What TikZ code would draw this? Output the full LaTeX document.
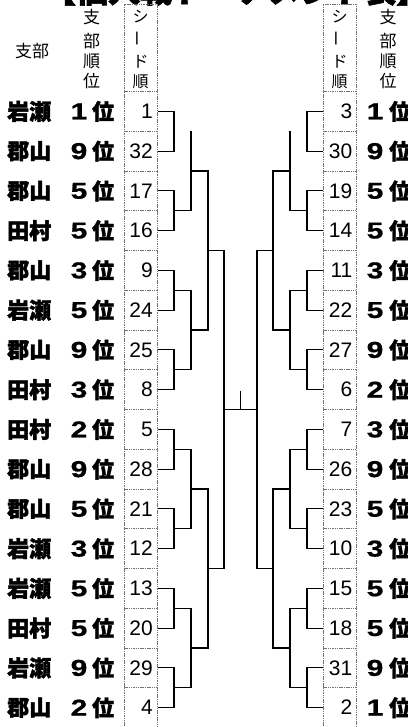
\documentclass[tikz,border=0pt]{standalone}
\usepackage{fontspec}
\newfontfamily\jp{Noto Sans CJK JP}
\newfontfamily\jpheavy{Noto Sans CJK JP}[BoldFeatures={FakeBold=1.8}]
\newfontfamily\numf{Liberation Sans}
\newfontfamily\rankf{Liberation Sans}[BoldFeatures={FakeStretch=1.3,FakeBold=0.8}]
\begin{document}
\begin{tikzpicture}[x=1pt,y=-1pt,
  br/.style={line width=1.1pt, black},
  boxline/.style={line width=0.7pt, black!55, dash pattern=on 1.5pt off 0.8pt},
  team/.style={font=\jpheavy\bfseries\fontsize{22}{22}\selectfont, anchor=west, inner sep=0pt},
  rankdigit/.style={font=\rankf\bfseries\fontsize{23}{23}\selectfont, anchor=west, inner sep=0pt},
  seednum/.style={font=\numf\fontsize{21}{21}\selectfont, anchor=east, inner sep=0pt},
  hdr/.style={font=\jp\fontsize{17}{17}\selectfont, inner sep=0pt},
  hdrs/.style={font=\jp\fontsize{16}{16}\selectfont, inner sep=0pt}]
\useasboundingbox (0,0) rectangle (407,727);
\fill[white] (0,0) rectangle (407,727);
% clipped title
\node[font=\jpheavy\bfseries\fontsize{32}{32}\selectfont, anchor=base west, inner sep=0pt] (title) at (44,2.5) {【個人戦トーナメント表】};
% headers
\node[hdr] (h0) at (32,51) {支部};
\node[hdr] (lh1) at (91.5,16.7) {支};
\node[hdr] (lh2) at (91.5,40.8) {部};
\node[hdr] (lh3) at (91.5,61.7) {順};
\node[hdr] (lh4) at (91.5,81.3) {位};
\node[hdr] (rh1) at (388,16.7) {支};
\node[hdr] (rh2) at (388,40.8) {部};
\node[hdr] (rh3) at (388,61.7) {順};
\node[hdr] (rh4) at (388,81.3) {位};
\node[hdrs] (ls01) at (140.5,16.7) {シ};
\node[hdrs,rotate=90] (ls02) at (140.5,39) {ー};
\node[hdrs] (ls03) at (140.5,61.7) {ド};
\node[hdrs] (ls04) at (140.5,81.3) {順};
\node[hdrs] (rs01) at (339.5,16.7) {シ};
\node[hdrs,rotate=90] (rs02) at (339.5,39) {ー};
\node[hdrs] (rs03) at (339.5,61.7) {ド};
\node[hdrs] (rs04) at (339.5,81.3) {順};
% seed boxes
\draw[boxline] (124,4.5) rectangle (157.5,730);
\draw[boxline] (323,4.5) rectangle (356,730);
\foreach \k in {0,...,15} {
  \pgfmathsetmacro\yy{91.5+39.75*\k}
  \draw[boxline] (124,\yy) -- (157.5,\yy);
  \draw[boxline] (323,\yy) -- (356,\yy);
}
% left rows
\foreach \i/\tm/\rk/\sd in {1/岩瀬/1/1, 2/郡山/9/32, 3/郡山/5/17, 4/田村/5/16, 5/郡山/3/9, 6/岩瀬/5/24, 7/郡山/9/25, 8/田村/3/8, 9/田村/2/5, 10/郡山/9/28, 11/郡山/5/21, 12/岩瀬/3/12, 13/岩瀬/5/13, 14/田村/5/20, 15/岩瀬/9/29, 16/郡山/2/4} {
  \pgfmathsetmacro\yy{111.4+39.75*(\i-1)}
  \node[team] (lt\i) at (7,\yy) {\tm};
  \node[rankdigit] (lrd\i) at (70.5,\yy) {\rk};
  \node[team] (lr\i) at (92,\yy) {位};
  \node[seednum] (ls\i) at (153,\yy) {\sd};
  \coordinate (lf\i) at (157.5,\yy);
}
% right rows
\foreach \i/\rk/\sd in {1/1/3, 2/9/30, 3/5/19, 4/5/14, 5/3/11, 6/5/22, 7/9/27, 8/2/6, 9/3/7, 10/9/26, 11/5/23, 12/3/10, 13/5/15, 14/5/18, 15/9/31, 16/1/2} {
  \pgfmathsetmacro\yy{111.4+39.75*(\i-1)}
  \node[seednum] (rs\i) at (352.5,\yy) {\sd};
  \node[rankdigit] (rrd\i) at (366.5,\yy) {\rk};
  \node[team] (rr\i) at (389,\yy) {位};
  \coordinate (rf\i) at (323,\yy);
}
% bracket junctions
\foreach \k in {1,...,8} {
  \pgfmathsetmacro\yy{131.275+79.5*(\k-1)}
  \coordinate (la\k) at (174,\yy);
  \coordinate (ra\k) at (307,\yy);
}
\foreach \k in {1,...,4} {
  \pgfmathsetmacro\yy{171.025+159*(\k-1)}
  \coordinate (lb\k) at (191,\yy);
  \coordinate (rb\k) at (290,\yy);
}
\foreach \k in {1,2} {
  \pgfmathsetmacro\yy{250.525+318*(\k-1)}
  \coordinate (lc\k) at (208,\yy);
  \coordinate (rc\k) at (273,\yy);
}
\coordinate (ld) at (224,409.525);
\coordinate (rd) at (257,409.525);
% round 1
\foreach \k in {1,...,8} {
  \pgfmathtruncatemacro\a{2*\k-1}
  \pgfmathtruncatemacro\b{2*\k}
  \draw[br] (lf\a) -| (la\k) |- (lf\b);
  \draw[br] (rf\a) -| (ra\k) |- (rf\b);
}
% round 2
\draw[br] (lb1 |- la1) -- (lb1) |- (la2);
\draw[br] (rb1 |- ra1) -- (rb1) |- (ra2);
\foreach \k in {2,3,4} {
  \pgfmathtruncatemacro\a{2*\k-1}
  \pgfmathtruncatemacro\b{2*\k}
  \draw[br] (la\a) -| (lb\k) |- (la\b);
  \draw[br] (ra\a) -| (rb\k) |- (ra\b);
}
% round 3
\draw[br] (lb1) -| (lc1) |- (lb2);
\draw[br] (lb3) -| (lc2) |- (lb4);
\draw[br] (rb1) -| (rc1) |- (rb2);
\draw[br] (rb3) -| (rc2) |- (rb4);
% round 4
\draw[br] (lc1) -| (ld) |- (lc2);
\draw[br] (rc1) -| (rd) |- (rc2);
% final
\draw[br] (ld) -- (rd);
\coordinate (tk) at (240.5,391);
\draw[br] (tk) -- (tk |- ld);
\end{tikzpicture}
\end{document}
